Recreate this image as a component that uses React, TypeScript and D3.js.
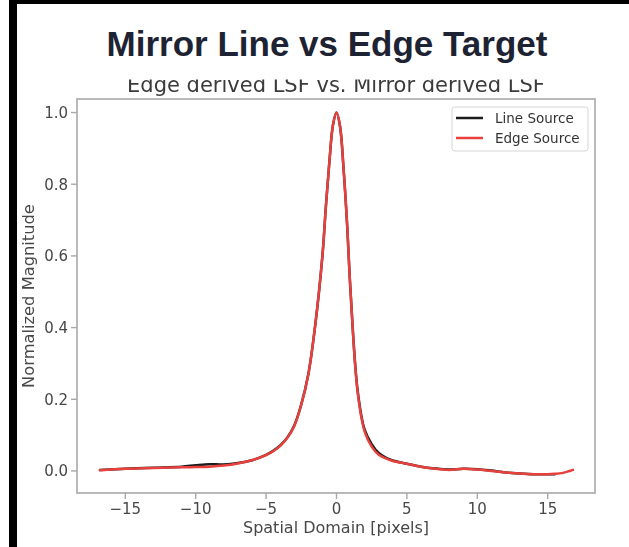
import React from "react";
import * as d3 from "d3";

const TITLE = "Mirror Line vs Edge Target";
const SUBTITLE = "Edge derived LSF vs. Mirror derived LSF";
const X_LABEL = "Spatial Domain [pixels]";
const Y_LABEL = "Normalized Magnitude";
const X_TICKS = [-15, -10, -5, 0, 5, 10, 15];
const Y_TICKS = [0.0, 0.2, 0.4, 0.6, 0.8, 1.0];
const SERIES_NAMES = ["Line Source", "Edge Source"];
const SERIES_COLORS = ["#1c1c1c", "#e8413e"];

// Line Source (mirror derived)
const lineX = [-16.8, -15, -13, -11, -10, -9, -8, -7, -6, -5, -4.5, -4, -3.5, -3, -2.5, -2, -1.5, -1, -0.75, -0.5, -0.25, 0, 0.25, 0.5, 0.75, 1, 1.5, 2, 2.5, 3, 3.5, 4, 5, 6, 7, 8, 9, 10, 11, 12, 13, 14, 15, 15.5];
const lineY = [0.003, 0.006, 0.009, 0.012, 0.016, 0.019, 0.018, 0.022, 0.030, 0.045, 0.056, 0.071, 0.093, 0.127, 0.186, 0.27, 0.41, 0.60, 0.74, 0.865, 0.965, 1.0, 0.962, 0.845, 0.69, 0.50, 0.225, 0.115, 0.075, 0.05, 0.037, 0.029, 0.02, 0.012, 0.007, 0.004, 0.006, 0.005, 0.001, -0.004, -0.007, -0.009, -0.009, -0.009];

// Edge Source (edge derived)
const edgeX = [-16.8, -15, -13, -11, -10, -9, -8, -7, -6, -5, -4.5, -4, -3.5, -3, -2.5, -2, -1.5, -1, -0.75, -0.5, -0.25, 0, 0.25, 0.5, 0.75, 1, 1.5, 2, 2.5, 3, 3.5, 4, 5, 6, 7, 8, 9, 10, 11, 12, 13, 14, 15, 15.5, 16, 16.8];
const edgeY = [0.002, 0.006, 0.008, 0.010, 0.011, 0.012, 0.015, 0.021, 0.030, 0.044, 0.055, 0.070, 0.092, 0.125, 0.185, 0.27, 0.41, 0.60, 0.74, 0.865, 0.965, 1.0, 0.962, 0.845, 0.69, 0.50, 0.22, 0.11, 0.068, 0.045, 0.035, 0.028, 0.02, 0.012, 0.006, 0.003, 0.006, 0.004, 0.0, -0.004, -0.007, -0.009, -0.009, -0.008, -0.006, 0.003];

const W = 629;
const H = 547;
const plot = { left: 77, right: 595, top: 99, bottom: 493 };
const FONT = "'DejaVu Sans', sans-serif";

export default function App() {
  const x = d3.scaleLinear().domain([-18.43, 18.36]).range([plot.left, plot.right]);
  const y = d3.scaleLinear().domain([-0.0615, 1.0378]).range([plot.bottom, plot.top]);

  const line = d3
    .line<[number, number]>()
    .x((d) => x(d[0]))
    .y((d) => y(d[1]))
    .curve(d3.curveCatmullRom.alpha(0.5));

  const series = [
    lineX.map((v, i) => [v, lineY[i]] as [number, number]),
    edgeX.map((v, i) => [v, edgeY[i]] as [number, number]),
  ];

  const fmtY = d3.format(".1f");
  const fmtX = (v: number) => (v < 0 ? "\u2212" + Math.abs(v) : String(v));
  const spine = "#a8a8a8";
  const tickText = "#474747";

  return (
    <svg
      width={W}
      height={H}
      style={{ position: "absolute", left: 0, top: 0, background: "#fff" }}
    >
      <defs>
        <clipPath id="subclip">
          <rect x={0} y={79.5} width={W} height={30} />
        </clipPath>
        <filter id="soft" x="-5%" y="-5%" width="110%" height="110%">
          <feGaussianBlur stdDeviation="0.5" />
        </filter>
      </defs>
      <rect x={0} y={0} width={W} height={H} fill="#fff" />
      {/* frame */}
      <rect x={9} y={0} width={8} height={H} fill="#000" />
      <rect x={9} y={0} width={W - 9} height={4} fill="#000" />

      <text
        x={327}
        y={56}
        textAnchor="middle"
        fontFamily="'Liberation Sans', Arial, sans-serif"
        fontWeight="bold"
        fontSize={35}
        fill="#1d2333"
      >
        {TITLE}
      </text>

      <g filter="url(#soft)">
        <g clipPath="url(#subclip)">
          <text
            x={(plot.left + plot.right) / 2}
            y={91.5}
            textAnchor="middle"
            fontFamily={FONT}
            fontSize={21}
            fill="#3a3a3a"
          >
            {SUBTITLE}
          </text>
        </g>

        {/* series */}
        {series.map((s, i) => (
          <path
            key={i}
            d={line(s) || ""}
            fill="none"
            stroke={SERIES_COLORS[i]}
            strokeWidth={2.5}
            strokeLinejoin="round"
            strokeLinecap="round"
          />
        ))}

        {/* spines */}
        <rect
          x={plot.left}
          y={plot.top}
          width={plot.right - plot.left}
          height={plot.bottom - plot.top}
          fill="none"
          stroke={spine}
          strokeWidth={1.6}
        />

        {/* x ticks */}
        {X_TICKS.map((t) => (
          <g key={"x" + t}>
            <line x1={x(t)} x2={x(t)} y1={plot.bottom} y2={plot.bottom + 6} stroke={spine} strokeWidth={1.4} />
            <text
              x={x(t)}
              y={plot.bottom + 21}
              textAnchor="middle"
              fontFamily={FONT}
              fontSize={15}
              fill={tickText}
            >
              {fmtX(t)}
            </text>
          </g>
        ))}

        {/* y ticks */}
        {Y_TICKS.map((t) => (
          <g key={"y" + t}>
            <line x1={plot.left - 6} x2={plot.left} y1={y(t)} y2={y(t)} stroke={spine} strokeWidth={1.4} />
            <text
              x={plot.left - 9}
              y={y(t)}
              dy="0.36em"
              textAnchor="end"
              fontFamily={FONT}
              fontSize={15}
              fill={tickText}
            >
              {fmtY(t)}
            </text>
          </g>
        ))}

        <text
          x={(plot.left + plot.right) / 2}
          y={533}
          textAnchor="middle"
          fontFamily={FONT}
          fontSize={16}
          fill={tickText}
        >
          {X_LABEL}
        </text>
        <text
          transform={`translate(34, ${(plot.top + plot.bottom) / 2}) rotate(-90)`}
          textAnchor="middle"
          fontFamily={FONT}
          fontSize={16.3}
          fill={tickText}
        >
          {Y_LABEL}
        </text>

        {/* legend */}
        <rect x={452} y={107} width={136} height={44} rx={3} fill="#fff" fillOpacity={0.85} stroke="#d6d6d6" strokeWidth={1} />
        {SERIES_NAMES.map((n, i) => (
          <g key={n}>
            <line x1={456} x2={483} y1={118 + i * 20} y2={118 + i * 20} stroke={SERIES_COLORS[i]} strokeWidth={2.5} />
            <text x={495} y={118 + i * 20} dy="0.36em" fontFamily={FONT} fontSize={13.5} fill="#333">
              {n}
            </text>
          </g>
        ))}
      </g>
    </svg>
  );
}
